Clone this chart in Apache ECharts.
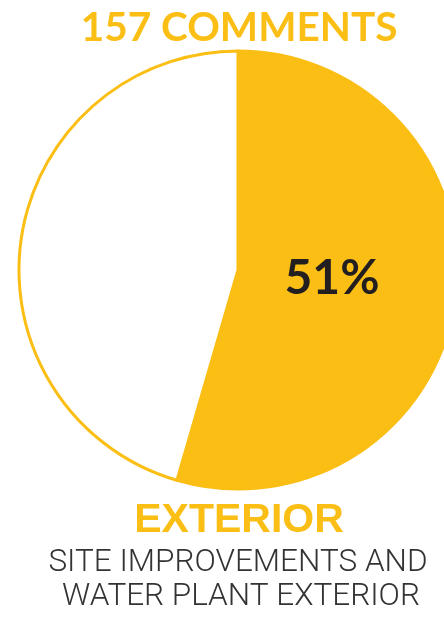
<!DOCTYPE html>
<html lang="en">
<head>
    <meta charset="UTF-8">
    <title>Exterior comments</title>
    <style>
        html, body { margin: 0; padding: 0; background: #fff; }
        #chart { width: 444px; height: 618px; }
    </style>
</head>
<body>
    <div id="chart"></div>
    <script src="https://cdn.jsdelivr.net/npm/echarts@6/dist/echarts.min.js"></script>
    <script>
        // values
        var categories = ['Exterior', 'Other'];
        var sliceValues = [54.5, 45.5];
        var percentLabel = '51%';
        var headline = '157 COMMENTS';
        var heading = 'EXTERIOR';
        var subLines = ['SITE IMPROVEMENTS AND', 'WATER PLANT EXTERIOR'];

        var yellow = '#FABE14';

        var chart = echarts.init(document.getElementById('chart'));
        var option = {
            animation: false,
            graphic: [
                { type: 'text', z: 100, x: 239, y: 28, style: { text: headline, font: 'bold 40.5px Lato', fill: yellow, align: 'center', verticalAlign: 'middle' } },
                { type: 'text', z: 100, x: 332, y: 279, style: { text: percentLabel, font: 'bold 48px Lato', fill: '#231F20', align: 'center', verticalAlign: 'middle' } },
                { type: 'text', z: 100, x: 239, y: 521, style: { text: heading, font: 'bold 41px "Liberation Sans"', fill: yellow, align: 'center', verticalAlign: 'middle' } },
                { type: 'text', z: 100, x: 238, y: 563, style: { text: subLines[0], font: '300 31.5px Roboto', fill: '#333', align: 'center', verticalAlign: 'middle' } },
                { type: 'text', z: 100, x: 241, y: 597, style: { text: subLines[1], font: '300 31.5px Roboto', fill: '#333', align: 'center', verticalAlign: 'middle' } }
            ],
            series: [{
                type: 'pie',
                center: [238, 270],
                radius: 219,
                startAngle: 90,
                clockwise: true,
                silent: true,
                label: { show: false },
                labelLine: { show: false },
                itemStyle: { borderColor: yellow, borderWidth: 3 },
                data: [
                    { name: categories[0], value: sliceValues[0], itemStyle: { color: yellow } },
                    { name: categories[1], value: sliceValues[1], itemStyle: { color: '#fff' } }
                ]
            }]
        };
        chart.setOption(option);
    </script>
</body>
</html>
